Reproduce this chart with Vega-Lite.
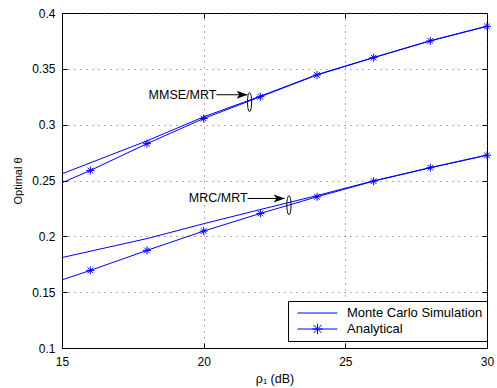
{
  "$schema": "https://vega.github.io/schema/vega-lite/v6.json",
  "width": 425,
  "height": 335,
  "autosize": {"type": "none"},
  "padding": {"left": 62, "top": 13, "right": 10, "bottom": 40},
  "background": "white",
  "config": {
    "font": "Liberation Sans",
    "view": {"stroke": "black", "strokeWidth": 1},
    "axis": {
      "domainColor": "black",
      "tickColor": "black",
      "labelColor": "black",
      "titleColor": "black",
      "labelFont": "Liberation Sans",
      "titleFont": "Liberation Sans",
      "labelFontSize": 12,
      "titleFontSize": 12,
      "titleFontWeight": "normal",
      "labelFlush": false,
      "grid": true,
      "gridColor": "#333333",
      "gridDash": [1, 5],
      "gridOpacity": 0.75,
      "tickSize": -5,
      "labelPadding": 12
    }
  },
  "resolve": {"axis": {"x": "independent", "y": "independent"}},
  "datasets": {
    "curves": [
      {"scheme": "MMSE/MRT", "method": "Monte Carlo Simulation", "rho": 15, "theta": 0.256},
      {"scheme": "MMSE/MRT", "method": "Monte Carlo Simulation", "rho": 18, "theta": 0.2855},
      {"scheme": "MMSE/MRT", "method": "Monte Carlo Simulation", "rho": 20, "theta": 0.307},
      {"scheme": "MMSE/MRT", "method": "Monte Carlo Simulation", "rho": 22, "theta": 0.3255},
      {"scheme": "MMSE/MRT", "method": "Monte Carlo Simulation", "rho": 24, "theta": 0.3448},
      {"scheme": "MMSE/MRT", "method": "Monte Carlo Simulation", "rho": 26, "theta": 0.3602},
      {"scheme": "MMSE/MRT", "method": "Monte Carlo Simulation", "rho": 28, "theta": 0.3752},
      {"scheme": "MMSE/MRT", "method": "Monte Carlo Simulation", "rho": 30, "theta": 0.3883},
      {"scheme": "MMSE/MRT", "method": "Analytical", "rho": 15, "theta": 0.248},
      {"scheme": "MMSE/MRT", "method": "Analytical", "rho": 16, "theta": 0.259},
      {"scheme": "MMSE/MRT", "method": "Analytical", "rho": 18, "theta": 0.283},
      {"scheme": "MMSE/MRT", "method": "Analytical", "rho": 20, "theta": 0.3055},
      {"scheme": "MMSE/MRT", "method": "Analytical", "rho": 22, "theta": 0.325},
      {"scheme": "MMSE/MRT", "method": "Analytical", "rho": 24, "theta": 0.3445},
      {"scheme": "MMSE/MRT", "method": "Analytical", "rho": 26, "theta": 0.36},
      {"scheme": "MMSE/MRT", "method": "Analytical", "rho": 28, "theta": 0.375},
      {"scheme": "MMSE/MRT", "method": "Analytical", "rho": 30, "theta": 0.388},
      {"scheme": "MRC/MRT", "method": "Monte Carlo Simulation", "rho": 15, "theta": 0.181},
      {"scheme": "MRC/MRT", "method": "Monte Carlo Simulation", "rho": 18, "theta": 0.198},
      {"scheme": "MRC/MRT", "method": "Monte Carlo Simulation", "rho": 20, "theta": 0.2113},
      {"scheme": "MRC/MRT", "method": "Monte Carlo Simulation", "rho": 22, "theta": 0.224},
      {"scheme": "MRC/MRT", "method": "Monte Carlo Simulation", "rho": 24, "theta": 0.2365},
      {"scheme": "MRC/MRT", "method": "Monte Carlo Simulation", "rho": 26, "theta": 0.2497},
      {"scheme": "MRC/MRT", "method": "Monte Carlo Simulation", "rho": 28, "theta": 0.2616},
      {"scheme": "MRC/MRT", "method": "Monte Carlo Simulation", "rho": 30, "theta": 0.2728},
      {"scheme": "MRC/MRT", "method": "Analytical", "rho": 15, "theta": 0.161},
      {"scheme": "MRC/MRT", "method": "Analytical", "rho": 16, "theta": 0.1695},
      {"scheme": "MRC/MRT", "method": "Analytical", "rho": 18, "theta": 0.1874},
      {"scheme": "MRC/MRT", "method": "Analytical", "rho": 20, "theta": 0.2047},
      {"scheme": "MRC/MRT", "method": "Analytical", "rho": 22, "theta": 0.2205},
      {"scheme": "MRC/MRT", "method": "Analytical", "rho": 24, "theta": 0.2354},
      {"scheme": "MRC/MRT", "method": "Analytical", "rho": 26, "theta": 0.2494},
      {"scheme": "MRC/MRT", "method": "Analytical", "rho": 28, "theta": 0.2614},
      {"scheme": "MRC/MRT", "method": "Analytical", "rho": 30, "theta": 0.2726}
    ],
    "notes": [
      {"label": "MMSE/MRT", "tx": 20.45, "ty": 0.3268, "ax": 21.55, "ex": 21.62, "ey": 0.3202},
      {"label": "MRC/MRT", "tx": 21.55, "ty": 0.2339, "ax": 22.86, "ex": 23.01, "ey": 0.2279}
    ]
  },
  "layer": [
    {
      "data": {"name": "curves"},
      "mark": {"type": "line", "strokeWidth": 1},
      "encoding": {
        "x": {
          "field": "rho", "type": "quantitative",
          "scale": {"domain": [15, 30], "nice": false, "zero": false},
          "axis": {"orient": "bottom", "values": [15, 20, 25, 30], "title": "ρ₁ (dB)", "titlePadding": 5, "titleFontSize": 12.5, "labelPadding": 13}
        },
        "y": {
          "field": "theta", "type": "quantitative",
          "scale": {"domain": [0.1, 0.4], "nice": false, "zero": false},
          "axis": {"orient": "left", "values": [0.1, 0.15, 0.2, 0.25, 0.3, 0.35, 0.4], "format": ".2~f", "title": "Optimal θ", "titlePadding": 8, "titleFontSize": 11}
        },
        "detail": {"field": "scheme"},
        "color": {
          "field": "method", "type": "nominal",
          "scale": {"domain": ["Monte Carlo Simulation", "Analytical"], "range": ["#0000ff", "#0000ff"]},
          "legend": {
            "title": null,
            "orient": "none",
            "legendX": 226,
            "legendY": 288,
            "strokeColor": "black",
            "fillColor": "white",
            "padding": 4,
            "rowPadding": 0,
            "clipHeight": 16,
            "labelFontSize": 13,
            "labelColor": "black",
            "labelOffset": 9,
            "symbolOffset": 5,
            "symbolType": "stroke",
            "symbolSize": 1600,
            "symbolStrokeWidth": 1,
            "symbolStrokeColor": "#0000ff",
            "encode": {
              "symbols": {
                "update": {
                  "shape": {"signal": "datum.value === 'Analytical' ? 'M-1,0L1,0M-0.2,-0.2L0.2,0.2M-0.2,0.2L0.2,-0.2M0,-0.26L0,0.26M-0.26,0L0.26,0' : 'M-1,0L1,0'"},
                  "stroke": {"value": "#0000ff"},
                  "fill": {"value": "transparent"},
                  "opacity": {"value": 1}
                }
              }
            }
          }
        }
      }
    },
    {
      "data": {"name": "curves"},
      "transform": [{"filter": "datum.method === 'Analytical' && datum.rho >= 16"}],
      "mark": {
        "type": "point",
        "shape": "M-1,0L1,0M0,-1L0,1M-0.7,-0.7L0.7,0.7M-0.7,0.7L0.7,-0.7",
        "size": 64,
        "filled": false,
        "stroke": "#0000ff",
        "strokeWidth": 1,
        "opacity": 1
      },
      "encoding": {
        "x": {"field": "rho", "type": "quantitative", "axis": {"orient": "top", "values": [15, 20, 25, 30], "labels": false, "title": null, "grid": false, "domain": false}},
        "y": {"field": "theta", "type": "quantitative", "axis": {"orient": "right", "values": [0.1, 0.15, 0.2, 0.25, 0.3, 0.35, 0.4], "labels": false, "title": null, "grid": false, "domain": false}}
      }
    },
    {
      "data": {"name": "notes"},
      "mark": {"type": "text", "align": "right", "baseline": "middle", "fontSize": 12.5, "font": "Liberation Sans", "color": "black"},
      "encoding": {
        "x": {"field": "tx", "type": "quantitative", "axis": null},
        "y": {"field": "ty", "type": "quantitative", "axis": null},
        "text": {"field": "label"}
      }
    },
    {
      "data": {"name": "notes"},
      "mark": {"type": "rule", "color": "black", "strokeWidth": 1},
      "encoding": {
        "x": {"field": "tx", "type": "quantitative", "axis": null},
        "x2": {"field": "ax"},
        "y": {"field": "ty", "type": "quantitative", "axis": null}
      }
    },
    {
      "data": {"name": "notes"},
      "mark": {"type": "point", "shape": "M-2,-0.72L0,0L-2,0.72L-1.5,0Z", "size": 121, "filled": true, "color": "black", "opacity": 1},
      "encoding": {
        "x": {"field": "ax", "type": "quantitative", "axis": null},
        "y": {"field": "ty", "type": "quantitative", "axis": null}
      }
    },
    {
      "data": {"name": "notes"},
      "mark": {"type": "point", "shape": "M0,-1A0.22,1 0 1,1 0,1A0.22,1 0 1,1 0,-1Z", "size": 361, "filled": false, "stroke": "black", "strokeWidth": 1, "opacity": 1},
      "encoding": {
        "x": {"field": "ex", "type": "quantitative", "axis": null},
        "y": {"field": "ey", "type": "quantitative", "axis": null}
      }
    }
  ]
}
